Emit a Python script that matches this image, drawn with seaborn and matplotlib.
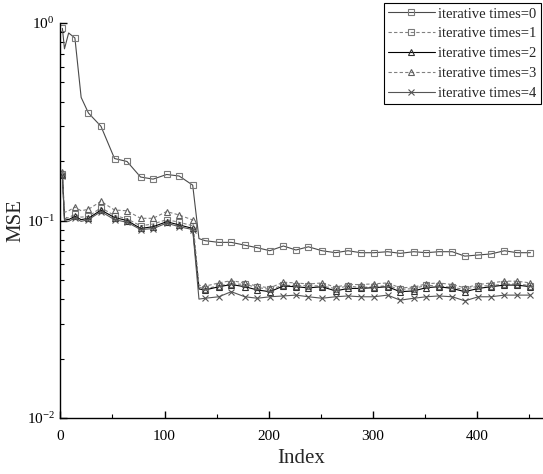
import matplotlib
matplotlib.use("Agg")
import matplotlib.pyplot as plt
from matplotlib.lines import Line2D
from matplotlib.ticker import MultipleLocator, LogLocator
import seaborn as sns

# ==== Data ====
index = [2, 4, 8, 14, 20, 27, 39, 52, 64, 77, 89, 102, 114, 127, 133,
         139, 152, 164, 177, 189, 201, 214, 226, 238, 251, 264, 276, 288,
         301, 314, 326, 339, 351, 363, 376, 388, 401, 413, 426, 438, 451]
unmarked = [4, 8, 20, 133]

mse_it0 = [0.94, 0.74, 0.89, 0.84, 0.42, 0.35, 0.30, 0.206, 0.199, 0.166, 0.162, 0.171, 0.168, 0.151, 0.081,
           0.079, 0.0775, 0.0775, 0.075, 0.0728, 0.0703, 0.0743, 0.0709, 0.0736, 0.0703, 0.0687, 0.0703, 0.0687,
           0.0687, 0.0695, 0.0682, 0.0695, 0.0687, 0.0695, 0.0695, 0.066, 0.0669, 0.0677, 0.0703, 0.0687, 0.0687]
mse_it1 = [0.172, 0.104, 0.103, 0.108, 0.104, 0.105, 0.116, 0.106, 0.102, 0.094, 0.096, 0.101, 0.098, 0.094, 0.046,
           0.0450, 0.0468, 0.0478, 0.0475, 0.0458, 0.0448, 0.0470, 0.0468, 0.0468, 0.0466, 0.0452, 0.0466, 0.0458,
           0.0462, 0.0468, 0.0448, 0.0452, 0.0470, 0.0466, 0.0458, 0.0448, 0.0466, 0.0468, 0.0476, 0.0478, 0.0468]
mse_it2 = [0.170, 0.102, 0.101, 0.105, 0.101, 0.1026, 0.113, 0.1035, 0.100, 0.0912, 0.093, 0.0986, 0.095, 0.0912, 0.045,
           0.0445, 0.0462, 0.0474, 0.0462, 0.0445, 0.0436, 0.0466, 0.0462, 0.0456, 0.0462, 0.0440, 0.0453, 0.0453,
           0.0457, 0.0462, 0.0436, 0.0440, 0.0457, 0.0462, 0.0453, 0.0436, 0.0453, 0.0462, 0.0471, 0.0471, 0.0462]
mse_it3 = [0.175, 0.110, 0.112, 0.117, 0.112, 0.114, 0.125, 0.113, 0.112, 0.1026, 0.1026, 0.111, 0.1066, 0.1006, 0.047,
           0.0465, 0.0483, 0.0496, 0.0483, 0.0465, 0.0456, 0.0487, 0.0483, 0.0477, 0.0483, 0.0460, 0.0474, 0.0474,
           0.0478, 0.0483, 0.0456, 0.0460, 0.0478, 0.0483, 0.0474, 0.0456, 0.0474, 0.0483, 0.0493, 0.0493, 0.0483]
mse_it4 = [0.168, 0.100, 0.099, 0.103, 0.099, 0.101, 0.111, 0.101, 0.098, 0.090, 0.091, 0.097, 0.093, 0.090, 0.040,
           0.0404, 0.0411, 0.0436, 0.0411, 0.0404, 0.0411, 0.0415, 0.0419, 0.0411, 0.0404, 0.0411, 0.0415, 0.0411,
           0.0411, 0.0419, 0.0395, 0.0404, 0.0411, 0.0415, 0.0411, 0.0392, 0.0411, 0.0411, 0.0419, 0.0419, 0.0419]

labels = ["iterative times=0", "iterative times=1", "iterative times=2",
          "iterative times=3", "iterative times=4"]

# ==== Styles ====
styles = [
    dict(color="#4a4a4a", mec="#7a7a7a", ls="-", marker="s"),
    dict(color="#808080", mec="#7a7a7a", ls=(0, (3, 2)), marker="s"),
    dict(color="#000000", mec="#303030", ls="-", marker="^"),
    dict(color="#808080", mec="#606060", ls=(0, (3, 2)), marker="^"),
    dict(color="#555555", mec="#555555", ls="-", marker="x"),
]

sns.set_style("ticks")
plt.rcParams["font.family"] = ["Liberation Serif", "DejaVu Serif"]
plt.rcParams["mathtext.fontset"] = "stix"

fig = plt.figure(figsize=(5.43, 4.74), dpi=100)
ax = fig.add_axes([60.3 / 543, 56 / 474, 1 - 60.3 / 543, 395 / 474])

mark_at = [i for i, x in enumerate(index) if x not in unmarked]
handles = []
for series, st, lab in zip([mse_it0, mse_it1, mse_it2, mse_it3, mse_it4], styles, labels):
    sns.lineplot(x=index, y=series, ax=ax, color=st["color"], linestyle=st["ls"],
                 linewidth=0.8, marker=st["marker"], markersize=4.5, markevery=mark_at,
                 markerfacecolor="none", markeredgecolor=st["mec"], markeredgewidth=0.8)
    handles.append(Line2D([], [], color=st["color"], linestyle=st["ls"], linewidth=0.8,
                          marker=st["marker"], markersize=4.5, markerfacecolor="none",
                          markeredgecolor=st["mec"], markeredgewidth=0.8))

ax.set_yscale("log")
ax.set_ylim(1e-2, 1e0)
ax.set_xlim(0, 463)
ax.xaxis.set_major_locator(MultipleLocator(100))
ax.xaxis.set_minor_locator(MultipleLocator(50))
ax.yaxis.set_major_locator(LogLocator(base=10))
ax.yaxis.set_minor_locator(LogLocator(base=10, subs=range(2, 10)))

for side in ["top", "right"]:
    ax.spines[side].set_visible(False)
for side in ["left", "bottom"]:
    ax.spines[side].set_linewidth(1.0)
    ax.spines[side].set_color("black")

ax.tick_params(which="major", direction="in", length=5, width=1.0, labelsize=11, colors="black")
ax.tick_params(which="minor", direction="in", length=3, width=0.8, colors="black")
ax.tick_params(axis="x", which="major", pad=9)
ax.tick_params(axis="y", which="major", pad=4)

ax.set_xlabel("Index", fontsize=15, labelpad=4)
ax.set_ylabel("MSE", fontsize=15, labelpad=1)

leg = ax.legend(handles, labels, loc="upper right", bbox_to_anchor=(541 / 543, 1 - 3 / 474),
                bbox_transform=fig.transFigure, fontsize=10.5, frameon=True, fancybox=False,
                edgecolor="black", framealpha=1, handlelength=3.2, handletextpad=0.25,
                labelspacing=0.45, borderpad=0.3, borderaxespad=0)
leg.get_frame().set_linewidth(0.8)

fig.savefig("out.png", dpi=100)
